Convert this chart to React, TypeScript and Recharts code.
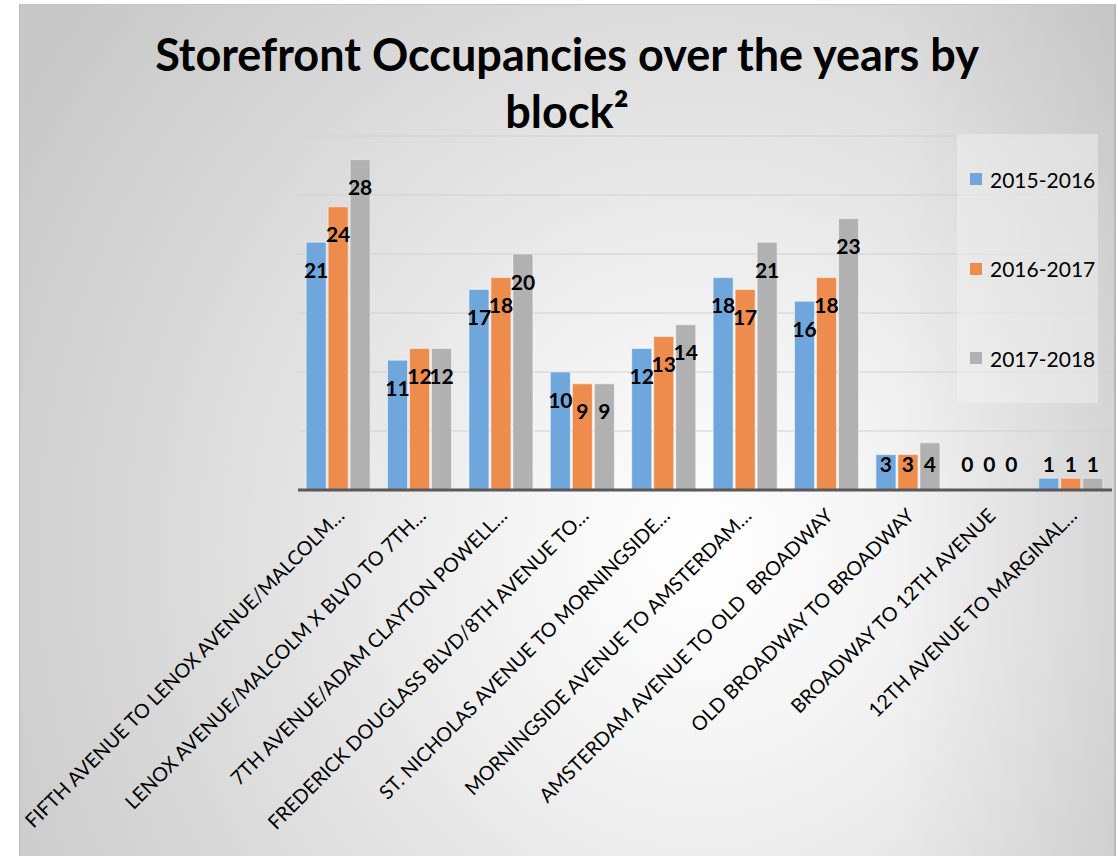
import React from 'react';
import { BarChart, Bar, XAxis, YAxis, CartesianGrid, LabelList } from 'recharts';

const blocks = [
  'FIFTH AVENUE TO LENOX AVENUE/MALCOLM…',
  'LENOX AVENUE/MALCOLM X BLVD TO 7TH…',
  '7TH AVENUE/ADAM CLAYTON POWELL…',
  'FREDERICK DOUGLASS BLVD/8TH AVENUE TO…',
  'ST. NICHOLAS AVENUE TO MORNINGSIDE…',
  'MORNINGSIDE AVENUE TO AMSTERDAM…',
  'AMSTERDAM AVENUE TO OLD  BROADWAY',
  'OLD BROADWAY TO BROADWAY',
  'BROADWAY TO 12TH AVENUE',
  '12TH AVENUE TO MARGINAL…',
];

const y2015 = [21, 11, 17, 10, 12, 18, 16, 3, 0, 1];
const y2016 = [24, 12, 18, 9, 13, 17, 18, 3, 0, 1];
const y2017 = [28, 12, 20, 9, 14, 21, 23, 4, 0, 1];

const seriesNames = ['2015-2016', '2016-2017', '2017-2018'];
const seriesColors = ['#6FA7DC', '#EE8C4E', '#B1B1B1'];
const yTicks = [0, 5, 10, 15, 20, 25, 30];

const data = blocks.map((name, i) => ({
  name,
  s1: y2015[i],
  s2: y2016[i],
  s3: y2017[i],
}));

const FONT = "Lato, 'Open Sans', sans-serif";

const AxisTick = (props: any) => {
  const { x, y, payload } = props;
  const ax = x + 7;
  const ay = y + 27;
  return (
    <text
      x={ax}
      y={ay}
      transform={`rotate(-45, ${ax}, ${ay})`}
      textAnchor="end"
      fontSize={19.7}
      fontFamily={FONT}
      fill="#000"
      style={{ whiteSpace: 'pre' }}
    >
      {payload.value}
    </text>
  );
};

// excel puts the value inside the top of the bar, or just above the axis when it doesn't fit
const ValueLabel = (props: any) => {
  const { x, y, width, height, value } = props;
  const top = Number(y);
  const base = top + Number(height);
  const cy = Math.min(top + 28, base - 26);
  return (
    <text
      x={Number(x) + Number(width) / 2}
      y={cy + 7.5}
      textAnchor="middle"
      fontSize={21}
      fontWeight={700}
      fontFamily={FONT}
      fill="#000"
    >
      {value}
    </text>
  );
};

export default function App() {
  const keys = ['s1', 's2', 's3'];
  return (
    <div
      style={{
        position: 'absolute',
        left: 19,
        top: 4,
        width: 1094,
        height: 852,
        borderLeft: '1px solid #bdbdbd',
        borderRight: '2px solid #b8b8b8',
        borderTop: '1px solid #c4c4c4',
        background:
          'linear-gradient(to right, rgba(0,0,0,0) 80%, rgba(0,0,0,0.06) 100%), radial-gradient(ellipse 800px 850px at 681px 546px, #ffffff 0%, #f6f6f6 20%, #dadada 67%, #c8c8c8 100%)',
        fontFamily: FONT,
        overflow: 'hidden',
      }}
    >
      <div
        style={{
          position: 'absolute',
          left: 0,
          top: 21,
          width: 1094,
          textAlign: 'center',
          fontSize: 45,
          fontWeight: 700,
          lineHeight: '57px',
          color: '#000',
        }}
      >
        Storefront Occupancies over the years by
        <br />
        block²
      </div>

      <div style={{ position: 'absolute', left: 0, top: 0 }}>
        <BarChart
          width={1094}
          height={852}
          data={data}
          margin={{ top: 131, right: 2, bottom: 7, left: 278 }}
          barCategoryGap="10%"
          barGap={2}
        >
          <CartesianGrid vertical={false} stroke="#d0d0d0" strokeWidth={1} />
          <YAxis hide domain={[0, 30]} ticks={yTicks} />
          <XAxis
            dataKey="name"
            interval={0}
            height={360}
            tickLine={false}
            tickSize={0}
            tickMargin={0}
            axisLine={{ stroke: '#595959', strokeWidth: 3 }}
            tick={<AxisTick />}
          />
          {keys.map((k, i) => (
            <Bar
              key={k}
              dataKey={k}
              name={seriesNames[i]}
              fill={seriesColors[i]}
              stroke="rgba(255,255,255,0.5)"
              strokeWidth={1}
              minPointSize={0.01}
              isAnimationActive={false}
            >
              <LabelList dataKey={k} content={<ValueLabel />} />
            </Bar>
          ))}
        </BarChart>
      </div>

      <div
        style={{
          position: 'absolute',
          left: 937,
          top: 129,
          width: 141,
          height: 269,
          background: 'rgba(245,245,245,0.45)',
        }}
      >
        {seriesNames.map((n, i) => (
          <div
            key={n}
            style={{
              position: 'absolute',
              left: 13,
              top: 45 + i * 89.5 - 12,
              height: 24,
              display: 'flex',
              alignItems: 'center',
              fontSize: 21,
              color: '#000',
              whiteSpace: 'nowrap',
            }}
          >
            <span
              style={{
                display: 'inline-block',
                width: 12,
                height: 12,
                background: seriesColors[i],
                marginRight: 8,
              }}
            />
            {n}
          </div>
        ))}
      </div>
    </div>
  );
}
